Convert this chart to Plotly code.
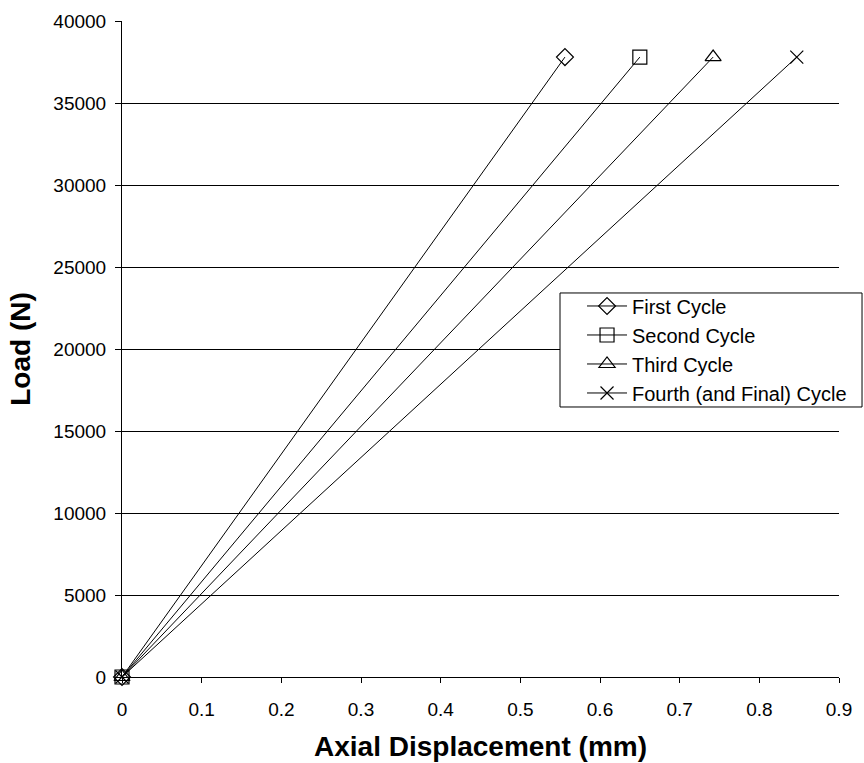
import plotly.graph_objects as go

# Load vs. axial displacement for the four loading cycles
cycle_names = ["First Cycle", "Second Cycle", "Third Cycle", "Fourth (and Final) Cycle"]
displacement_mm = [
    [0.0, 0.556],
    [0.0, 0.650],
    [0.0, 0.742],
    [0.0, 0.847],
]
load_n = [
    [0, 37800],
    [0, 37800],
    [0, 37800],
    [0, 37800],
]
marker_symbols = ["diamond-open", "square-open", "triangle-up-open", "x-thin-open"]
marker_sizes = [13, 14, 14, 13]

x_ticks = [0, 0.1, 0.2, 0.3, 0.4, 0.5, 0.6, 0.7, 0.8, 0.9]
y_ticks = [0, 5000, 10000, 15000, 20000, 25000, 30000, 35000, 40000]

FONT = "Arial, Liberation Sans, sans-serif"

fig = go.Figure()
for name, xs, ys, sym, sz in zip(cycle_names, displacement_mm, load_n, marker_symbols, marker_sizes):
    fig.add_trace(go.Scatter(
        x=xs, y=ys, name=name, mode="lines+markers",
        line=dict(color="black", width=1),
        marker=dict(symbol=sym, size=sz, color="black",
                    line=dict(color="black", width=1.2)),
        cliponaxis=False,
    ))

# Framed white box behind the legend entries
fig.add_shape(
    type="rect", xref="paper", yref="paper",
    x0=0.6109, x1=1.0321, y0=0.4116, y1=0.5854,
    fillcolor="white", line=dict(color="black", width=1), layer="above",
)

fig.update_layout(
    width=864, height=763,
    margin=dict(l=122, r=25, t=21, b=86, autoexpand=False),
    plot_bgcolor="white", paper_bgcolor="white",
    font=dict(family=FONT, color="black", size=19),
    showlegend=True,
    legend=dict(
        x=0.6416, y=0.5953, xanchor="left", yanchor="top",
        bgcolor="rgba(0,0,0,0)", borderwidth=0,
        font=dict(size=20, family=FONT), tracegroupgap=0,
        itemwidth=40,
    ),
    xaxis=dict(
        range=[0, 0.9], tickvals=x_ticks, ticktext=[f"{v:g}" for v in x_ticks],
        showgrid=False, zeroline=False, automargin=False,
        showline=True, linecolor="black", linewidth=1,
        ticks="outside", ticklen=5, tickcolor="black",
        ticklabelstandoff=10,
        title=dict(text="<b>Axial Displacement (mm)</b>", font=dict(size=28), standoff=17),
    ),
    yaxis=dict(
        range=[0, 40000], tickvals=y_ticks, ticktext=[str(v) for v in y_ticks],
        showgrid=True, gridcolor="black", gridwidth=1,
        zeroline=False, automargin=False,
        showline=True, linecolor="black", linewidth=1,
        ticks="outside", ticklen=6, tickcolor="black",
        ticklabelstandoff=5,
        title=dict(text="<b>Load (N)</b>", font=dict(size=28), standoff=14),
    ),
)

fig.write_html("out.html")
